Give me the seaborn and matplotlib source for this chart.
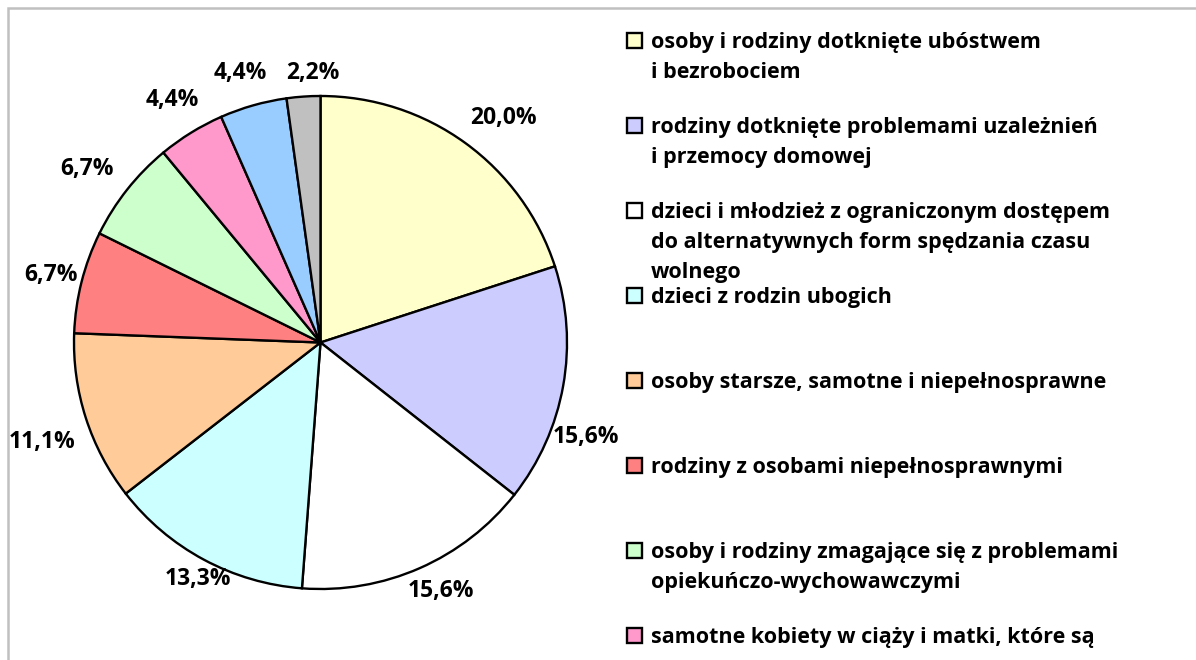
import numpy as np
import matplotlib
matplotlib.use("Agg")
import matplotlib.pyplot as plt
from matplotlib.patches import Rectangle
import seaborn as sns

# ==========================================================
# Data
# ==========================================================

categories = [
    "osoby i rodziny dotknięte ubóstwem\ni bezrobociem",
    "rodziny dotknięte problemami uzależnień\ni przemocy domowej",
    "dzieci i młodzież z ograniczonym dostępem\ndo alternatywnych form spędzania czasu\nwolnego",
    "dzieci z rodzin ubogich",
    "osoby starsze, samotne i niepełnosprawne",
    "rodziny z osobami niepełnosprawnymi",
    "osoby i rodziny zmagające się z problemami\nopiekuńczo-wychowawczymi",
    "samotne kobiety w ciąży i matki, które są",
    "osoby bezdomne",
    "inne",
]
shares = [20.0, 15.6, 15.6, 13.3, 11.1, 6.7, 6.7, 4.4, 4.4, 2.2]
colors = ["#FFFFCC", "#CCCCFF", "#FFFFFF", "#CCFFFF", "#FFCC99",
          "#FF8080", "#CCFFCC", "#FF99CC", "#99CCFF", "#C0C0C0"]

# label nudges (degrees, radius as multiple of pie radius)
label_turn = [-3.3, -9.6, 2.0, 0.9, 1.8, 0.2, 1.6, -0.3, 0.8, -2.3]
label_dist = [1.175, 1.144, 1.12, 1.08, 1.20, 1.127, 1.18, 1.153, 1.14, 1.094]

# ==========================================================
# Figure
# ==========================================================

sns.set_theme(style="white")
plt.rcParams["font.family"] = ["Open Sans", "DejaVu Sans"]

W, H = 1196, 660
fig = plt.figure(figsize=(W / 100, H / 100), dpi=100)
fig.patch.set_facecolor("white")

cx, cy, R = 320.5, 342.5, 246.5
ax = fig.add_axes([(cx - R) / W, (H - cy - R) / H, 2 * R / W, 2 * R / H])

wedges, _ = ax.pie(
    shares,
    colors=colors,
    startangle=90,
    counterclock=False,
    wedgeprops={"edgecolor": "black", "linewidth": 1.7},
)
ax.set_xlim(-1, 1)
ax.set_ylim(-1, 1)
ax.set_aspect("equal")
ax.axis("off")

for w, v, turn, dist in zip(wedges, shares, label_turn, label_dist):
    mid = np.deg2rad((w.theta1 + w.theta2) / 2 + turn)
    ax.text(
        dist * np.cos(mid), dist * np.sin(mid),
        f"{v:.1f}".replace(".", ",") + "%",
        ha="center", va="center",
        fontsize=16.5, fontweight="bold", color="black",
    )

# ==========================================================
# Legend (fixed spacing, overflows the bottom like the original)
# ==========================================================

sq_x, sq_w = 627, 15
txt_x = 651
base0, step, pitch = 48, 85, 30

for i, (lab, col) in enumerate(zip(categories, colors)):
    base = base0 + i * step
    if base > H:
        break
    fig.add_artist(Rectangle(
        (sq_x / W, (H - base) / H), sq_w / W, sq_w / H,
        transform=fig.transFigure, facecolor=col,
        edgecolor="black", linewidth=1.7,
    ))
    for j, line in enumerate(lab.split("\n")):
        fig.text(
            txt_x / W, (H - base - j * pitch) / H, line,
            ha="left", va="baseline",
            fontsize=15.5, fontweight="bold", color="black",
        )

# chart-area frame (only top and left edges visible)
fig.add_artist(Rectangle(
    (8 / W, -0.2), 1.2, (H - 8) / H + 0.2,
    transform=fig.transFigure, fill=False,
    edgecolor="#c0c0c0", linewidth=1.8,
))

plt.savefig("out.png", dpi=100)
plt.close()
